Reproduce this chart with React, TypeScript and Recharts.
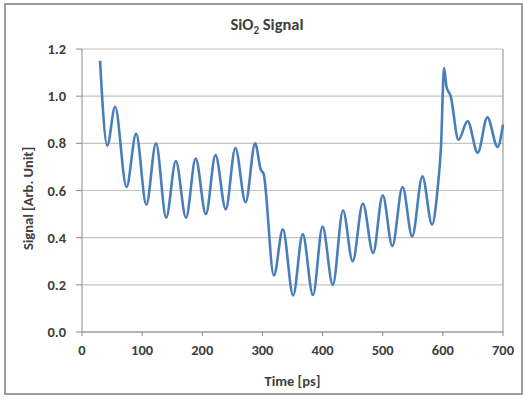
import React from "react";
import {
  LineChart,
  Line,
  XAxis,
  YAxis,
  CartesianGrid,
  ReferenceLine,
} from "recharts";

// Peaks/troughs
const timePs = [
  30, 42, 55, 74, 90, 107, 123, 140, 156, 173, 189, 206, 222, 239, 255, 272,
  288, 297, 302, 319, 334, 351, 367, 384, 400, 417, 434, 450, 467, 484, 500,
  516, 533, 549, 566, 582, 591, 597, 602, 606, 613, 626, 641, 658, 674, 691,
  700,
];
const signal = [
  1.15, 0.79, 0.955, 0.615, 0.84, 0.54, 0.8, 0.485, 0.725, 0.485, 0.735, 0.5,
  0.75, 0.52, 0.78, 0.55, 0.8, 0.69, 0.67, 0.24, 0.435, 0.155, 0.415, 0.157,
  0.447, 0.2, 0.515, 0.3, 0.545, 0.335, 0.58, 0.365, 0.615, 0.405, 0.66, 0.455,
  0.6, 0.79, 1.12, 1.04, 1.0, 0.815, 0.895, 0.76, 0.91, 0.785, 0.88,
];
const xTicks = [0, 100, 200, 300, 400, 500, 600, 700];
const yTicks = [0, 0.2, 0.4, 0.6, 0.8, 1.0, 1.2];

const chartData = timePs.map((t, i) => ({ t, v: signal[i] }));

const font = "Carlito, Lato, 'Liberation Sans', sans-serif";
const textColor = "#404040";
const textStyle = { fill: textColor, fontSize: 14.5, fontWeight: 700, fontFamily: font };

export default function App() {
  return (
    <div
      style={{
        position: "absolute",
        left: 0,
        top: 0,
        width: 525,
        height: 399,
        background: "#fff",
        fontFamily: font,
      }}
    >
      {/* outer chart frame */}
      <div
        style={{
          position: "absolute",
          left: 4,
          top: 3,
          width: 515,
          height: 388,
          border: "2px solid #9c9c9c",
        }}
      />
      <div
        style={{
          position: "absolute",
          left: 0,
          width: 525,
          top: 14,
          textAlign: "center",
          fontWeight: 700,
          fontSize: 16.5,
          color: textColor,
          paddingLeft: 9,
          boxSizing: "border-box",
        }}
      >
        SiO<sub style={{ fontSize: 11 }}>2</sub> Signal
      </div>
      <LineChart
        width={525}
        height={399}
        data={chartData}
        margin={{ top: 49, right: 22, bottom: 0, left: 22 }}
        style={{ position: "absolute", left: 0, top: 0 }}
      >
        <CartesianGrid vertical={false} stroke="#c4c4c4" strokeWidth={1.2} />
        <XAxis
          dataKey="t"
          type="number"
          domain={[0, 700]}
          ticks={xTicks}
          height={67}
          tickSize={4}
          tickMargin={9}
          stroke="#8a8a8a"
          tick={textStyle}
          label={{
            value: "Time [ps]",
            position: "insideBottom",
            offset: 13,
            ...textStyle,
          }}
        />
        <YAxis
          type="number"
          domain={[0, 1.2]}
          ticks={yTicks}
          width={60}
          tickSize={6}
          tickMargin={10}
          stroke="#8a8a8a"
          tickFormatter={(v: number) => v.toFixed(1)}
          tick={textStyle}
          label={{
            value: "Signal [Arb. Unit]",
            angle: -90,
            position: "center",
            dx: -24,
            dy: 8,
            ...textStyle,
          }}
        />
        <ReferenceLine x={700} stroke="#8a8a8a" />
        <Line
          type="monotone"
          dataKey="v"
          stroke="#4a7ebb"
          strokeWidth={2.6}
          dot={false}
          isAnimationActive={false}
        />
      </LineChart>
    </div>
  );
}
